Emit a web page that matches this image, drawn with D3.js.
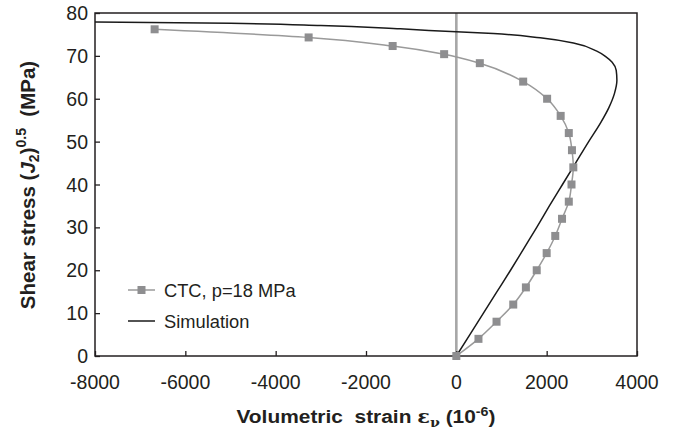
<!DOCTYPE html>
<html>
<head>
<meta charset="utf-8">
<script src="https://cdn.jsdelivr.net/npm/d3@7"></script>
<style>
  body { margin: 0; background: #fff; }
  svg { display: block; font-family: Arial, "Liberation Sans", sans-serif; }
</style>
</head>
<body>
<svg id="chart" width="677" height="434"></svg>
<script>
// Tick values
const xTicks = [-8000, -6000, -4000, -2000, 0, 2000, 4000];
const yTicks = [0, 10, 20, 30, 40, 50, 60, 70, 80];

// CTC test, p = 18 MPa: volumetric strain (1e-6) and shear stress (MPa)
const ctcStrain = [0, 490, 890, 1260, 1540, 1780, 2000, 2190, 2340, 2490, 2550, 2590, 2560, 2490, 2310, 2010, 1480, 520, -270, -1410, -3270, -6680];
const ctcStress = [0, 4, 8, 12, 16, 20, 24, 28, 32, 36, 40, 44, 48, 52, 56, 60, 64, 68.3, 70.4, 72.3, 74.3, 76.2];

// Model simulation
const simStrain = [0, 300, 600, 900, 1200, 1490, 1780, 2060, 2350, 2640, 2930, 3200, 3380, 3500, 3555, 3540, 3450, 3300, 3110, 2593, 1856, 820, 0, -1240, -3000, -5000, -8000];
const simStress = [0, 5, 10, 15, 20, 25, 30, 35, 40, 45, 50, 54.5, 58, 61.2, 64.3, 66.6, 68.5, 69.9, 71.1, 73.0, 74.2, 75.2, 75.6, 76.3, 77.1, 77.6, 77.9];

const svg = d3.select("#chart");
const m = { left: 95, right: 637, top: 13, bottom: 356 };

const x = d3.scaleLinear().domain([-8000, 4000]).range([m.left, m.right]);
const y = d3.scaleLinear().domain([0, 80]).range([m.bottom, m.top]);

const frame = "#231f20";

// Zero strain reference line
svg.append("line")
  .attr("x1", x(0)).attr("x2", x(0))
  .attr("y1", y(80)).attr("y2", y(0))
  .attr("stroke", "#a7a7a7").attr("stroke-width", 2.6);

// Axes with inward ticks
const xAxis = svg.append("g").attr("transform", `translate(0,${m.bottom})`)
  .call(d3.axisTop(x).tickValues(xTicks).tickSize(5).tickFormat(""));
const yAxis = svg.append("g").attr("transform", `translate(${m.left},0)`)
  .call(d3.axisRight(y).tickValues(yTicks).tickSize(5).tickFormat(""));
[xAxis, yAxis].forEach(g => {
  g.select(".domain").remove();
  g.selectAll("line").attr("stroke", frame).attr("stroke-width", 1.3);
});

// Tick labels
svg.append("g").selectAll("text").data(xTicks).join("text")
  .attr("x", d => x(d)).attr("y", 389)
  .attr("text-anchor", "middle")
  .attr("font-size", 19.5).attr("fill", "#231f20")
  .text(d => d);
svg.append("g").selectAll("text").data(yTicks).join("text")
  .attr("x", 88).attr("y", d => y(d) + 7)
  .attr("text-anchor", "end")
  .attr("font-size", 19.5).attr("fill", "#231f20")
  .text(d => d);

// Plot frame
svg.append("rect")
  .attr("x", m.left).attr("y", m.top)
  .attr("width", m.right - m.left).attr("height", m.bottom - m.top)
  .attr("fill", "none").attr("stroke", frame).attr("stroke-width", 1.5);

// Simulation curve
const simLine = d3.line()
  .x(i => x(simStrain[i])).y(i => y(simStress[i]))
  .curve(d3.curveMonotoneY);
svg.append("path")
  .attr("d", simLine(d3.range(simStrain.length)))
  .attr("fill", "none").attr("stroke", "#1a1a1a").attr("stroke-width", 1.5);

// CTC test curve with square markers
const ctcLine = d3.line()
  .x(i => x(ctcStrain[i])).y(i => y(ctcStress[i]))
  .curve(d3.curveMonotoneY);
svg.append("path")
  .attr("d", ctcLine(d3.range(ctcStrain.length)))
  .attr("fill", "none").attr("stroke", "#9a9a9a").attr("stroke-width", 1.5);

const sq = 8;
svg.append("g").selectAll("rect").data(d3.range(ctcStrain.length)).join("rect")
  .attr("x", i => x(ctcStrain[i]) - sq / 2)
  .attr("y", i => y(ctcStress[i]) - sq / 2)
  .attr("width", sq).attr("height", sq)
  .attr("fill", "#8e8e90");

// Legend
const lg = svg.append("g").attr("font-size", 18.3).attr("fill", "#231f20");
lg.append("line").attr("x1", 128).attr("x2", 155).attr("y1", 290).attr("y2", 290)
  .attr("stroke", "#9a9a9a").attr("stroke-width", 1.5);
lg.append("rect").attr("x", 141.5 - sq / 2).attr("y", 290 - sq / 2)
  .attr("width", sq).attr("height", sq).attr("fill", "#8e8e90");
lg.append("text").attr("x", 164).attr("y", 296.5).text("CTC, p=18 MPa");
lg.append("line").attr("x1", 128).attr("x2", 155).attr("y1", 321).attr("y2", 321)
  .attr("stroke", "#1a1a1a").attr("stroke-width", 1.5);
lg.append("text").attr("x", 164).attr("y", 327.5).text("Simulation");

// X axis title
const xt = svg.append("text")
  .attr("transform", "translate(366,423) scale(1.1,1)")
  .attr("text-anchor", "middle")
  .attr("font-size", 19).attr("font-weight", "bold").attr("fill", "#231f20")
  .attr("xml:space", "preserve");
xt.append("tspan").text("Volumetric  strain ");
xt.append("tspan").attr("font-family", "'DejaVu Serif', serif").text("ε");
xt.append("tspan").attr("font-family", "'DejaVu Serif', serif").attr("font-size", 13).attr("dy", 4).text("ν");
xt.append("tspan").attr("dy", -4).text(" (10");
xt.append("tspan").attr("font-size", 13).attr("dy", -7).text("-6");
xt.append("tspan").attr("dy", 7).text(")");

// Y axis title
const yt = svg.append("text")
  .attr("transform", `translate(35,185) rotate(-90)`)
  .attr("text-anchor", "middle")
  .attr("font-size", 20.5).attr("font-weight", "bold").attr("fill", "#231f20")
  .attr("xml:space", "preserve");
yt.append("tspan").text("Shear stress (");
yt.append("tspan").attr("font-style", "italic").text("J");
yt.append("tspan").attr("font-size", 14).attr("dy", 4).text("2");
yt.append("tspan").attr("dy", -4).text(")");
yt.append("tspan").attr("font-size", 14).attr("dy", -9).text("0.5");
yt.append("tspan").attr("dy", 9).text("  (MPa)");
</script>
</body>
</html>
